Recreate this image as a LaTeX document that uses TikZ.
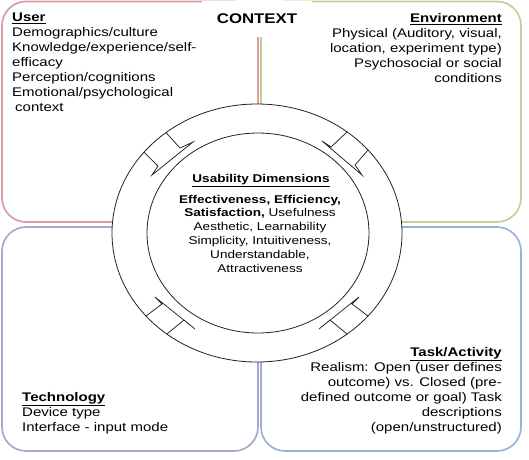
\documentclass[tikz,border=0pt]{standalone}
\usepackage{fontspec}
\setmainfont{Liberation Sans}[FakeStretch=1.2]
\usetikzlibrary{shapes.geometric}
\definecolor{userc}{RGB}{218,158,160}
\definecolor{envc}{RGB}{190,212,150}
\definecolor{techc}{RGB}{178,164,200}
\definecolor{taskc}{RGB}{150,180,215}
\definecolor{ringc}{RGB}{35,35,35}
\begin{document}
\begin{tikzpicture}[x=1pt,y=-1pt,
  ctxbox/.style={rectangle, line width=1.7pt, rounded corners=24pt, inner sep=0pt, outer sep=0pt},
  boxtext/.style={inner sep=0pt, font=\fontsize{12.5}{15}\selectfont, text=black},
  innertext/.style={inner sep=0pt, font=\fontsize{11.3}{13.8}\selectfont, text=black},
  ringshape/.style={ellipse, draw=ringc, line width=0.8pt, inner sep=0pt},
  arrowline/.style={draw=ringc, line width=0.75pt, line join=miter},
]
\useasboundingbox (0,0) rectangle (529,459);

% four context boxes
\node[ctxbox, draw=userc, minimum width=256pt, minimum height=220.5pt] (user) at (130,111.75) {};
\node[ctxbox, draw=envc,  minimum width=260pt, minimum height=220.5pt] (env)  at (391,111.75) {};
\node[ctxbox, draw=techc, minimum width=256pt, minimum height=224pt]   (tech) at (130,339) {};
\node[ctxbox, draw=taskc, minimum width=260pt, minimum height=224pt]   (task) at (391,339) {};

% CONTEXT label on white ground
\node[fill=white, inner sep=0pt, minimum width=110pt, minimum height=36pt,
      font=\bfseries\fontsize{14}{16}\selectfont] (ctx) at (257,18.5) {CONTEXT};

% ring
\node[ringshape, fill=white, minimum width=290pt, minimum height=258pt] (ring) at (257,233) {};
\node[ringshape, minimum width=222pt, minimum height=200pt] (core) at (258,233) {};

% arrow heads in the ring
\draw[arrowline] (166,132.6) -- (180,148) -- (193,142) -- (152,175) -- (158,166) -- (144,152.2);
\draw[arrowline] (347,132) -- (331,147) -- (322,141) -- (362,175) -- (355,165) -- (368,150);
\draw[arrowline] (167,334) -- (184,320) -- (195,329) -- (155,297) -- (162,304) -- (146,316);
\draw[arrowline] (347,334) -- (330,320) -- (319,329) -- (359,297) -- (352,304) -- (368,316);

% texts
\node[boxtext, anchor=north west, align=left] (usertext) at (12,13)
  {\textbf{\underline{User}}\\Demographics/culture\\Knowledge/experience/self-\\efficacy\\Perception/cognitions\\Emotional/psychological\\\hspace*{3pt}context};
\node[boxtext, anchor=north east, align=right] (envtext) at (502,13)
  {\textbf{\underline{Environment}}\\Physical (Auditory, visual,\\location, experiment type)\\Psychosocial or social\\conditions};
\node[boxtext, anchor=north west, align=left] (techtext) at (22,392)
  {\textbf{\underline{Technology}}\\Device type\\Interface - input mode};
\node[boxtext, anchor=north east, align=right] (tasktext) at (502,347)
  {\textbf{\underline{Task/Activity}}\\Realism: Open (user defines\\outcome) vs. Closed (pre-\\defined outcome or goal) Task\\descriptions\\(open/unstructured)};

\node[innertext, font=\bfseries\fontsize{11.3}{13.8}\selectfont, anchor=base] (udtitle) at (261,182)
  {\underline{Usability Dimensions}};
\node[innertext, anchor=north, align=center] (udbody) at (260,194.8)
  {\textbf{Effectiveness, Efficiency,}\\\textbf{Satisfaction,} Usefulness\\Aesthetic, Learnability\\Simplicity, Intuitiveness,\\Understandable,\\Attractiveness};
\end{tikzpicture}
\end{document}
